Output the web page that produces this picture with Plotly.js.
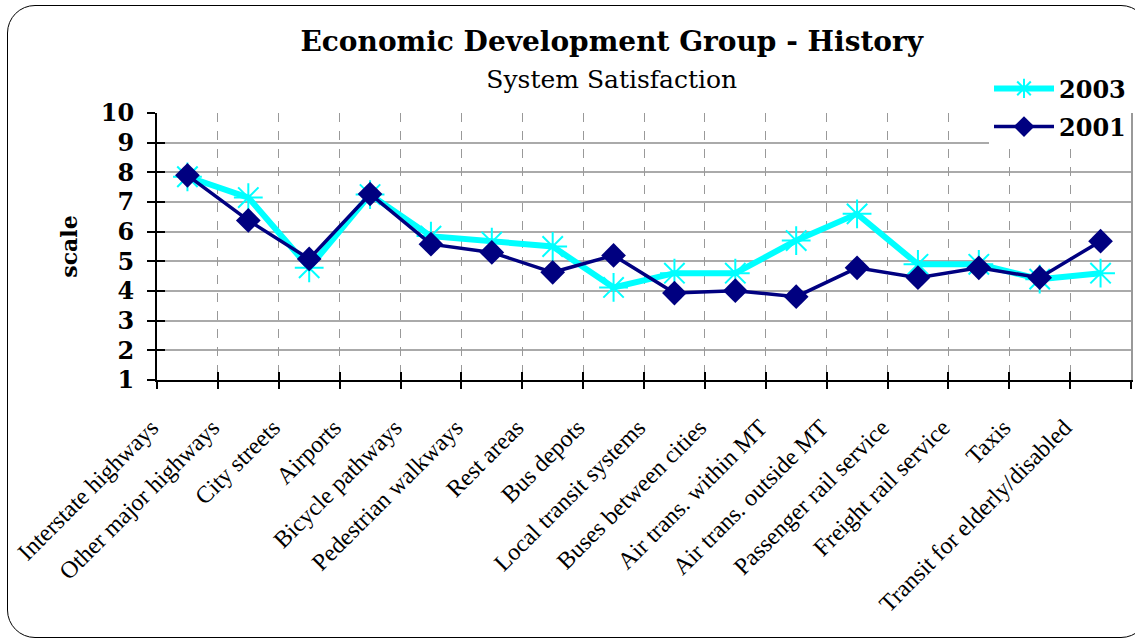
<!DOCTYPE html>
<html><head><meta charset="utf-8">
<script src="https://cdn.plot.ly/plotly-3.0.1.min.js"></script>
<style>
html,body{margin:0;padding:0;background:#fff;}
#frame{position:absolute;left:7px;top:5px;width:1140px;height:631px;border:1.5px solid #000;border-radius:28px;}
#chart{position:absolute;left:0;top:0;width:1135px;height:641px;}
</style></head>
<body><div id="frame"></div><div id="chart"></div>
<script>
const categories = ["Interstate highways","Other major highways","City streets","Airports","Bicycle pathways","Pedestrian walkways","Rest areas","Bus depots","Local transit systems","Buses between cities","Air trans. within MT","Air trans. outside MT","Passenger rail service","Freight rail service","Taxis","Transit for elderly/disabled"];
const values2003 = [7.85,7.15,4.78,7.25,5.85,5.65,5.5,4.12,4.6,4.6,5.7,6.6,4.9,4.9,4.4,4.6];
const values2001 = [7.9,6.38,5.08,7.27,5.58,5.3,4.63,5.2,3.93,4.01,3.81,4.78,4.45,4.78,4.45,5.68];
const yTicks = [1,2,3,4,5,6,7,8,9,10];
const idx = categories.map((c,i)=>i);

const serifB = "DejaVu Serif";
// helper traces (draw nothing) so the overlay axes for grid, cross ticks and frame are rendered
const helper = (xa, ya) => ({x: idx, y: values2001, xaxis: xa, yaxis: ya, mode: "none", type: "scatter",
  showlegend: false, hoverinfo: "skip"});
const traces = [
  helper("x2","y2"), helper("x3","y3"),
  {x: idx, y: values2003, name: "2003", type: "scatter", mode: "lines+markers",
   legendgroup: "a",
   line: {color: "#00FFFF", width: 6},
   marker: {symbol: "asterisk-open", size: 24, color: "#00FFFF", line: {color: "#00FFFF", width: 2}}},
  {x: idx, y: values2001, name: "2001", type: "scatter", mode: "lines+markers",
   legendgroup: "b",
   line: {color: "#000080", width: 3.5},
   marker: {symbol: "diamond", size: 19, color: "#000080"}}
];

const layout = {
  width: 1135, height: 641,
  margin: {l: 157, r: 4, t: 113, b: 261},
  paper_bgcolor: "rgba(0,0,0,0)", plot_bgcolor: "#fff",
  showlegend: true,
  title: {text: "<b>Economic Development Group - History</b><br><span style='font-size:25px;font-weight:normal'>System Satisfaction</span>",
    font: {family: serifB, size: 28, color: "#000"}, x: 0.539, xanchor: "center", y: 0.92, yanchor: "top"},
  xaxis: {
    type: "linear", range: [-0.5, 15.5],
    tickmode: "array", tickvals: idx, ticktext: categories,
    tickangle: -45, ticks: "", showgrid: false, zeroline: false,
    showline: true, linecolor: "#000", linewidth: 2,
    tickfont: {family: "Liberation Serif", size: 24, color: "#000"},
    ticklabelstandoff: 22, ticklabelshift: -36
  },
  xaxis2: {
    overlaying: "x", type: "linear", range: [-0.5, 15.5],
    tickmode: "linear", tick0: -0.5, dtick: 1,
    showgrid: true, gridcolor: "#999", griddash: "dash", gridwidth: 1,
    zeroline: false, showticklabels: false, ticks: "outside", ticklen: 8, tickwidth: 2, tickcolor: "#000",
    showline: false
  },
  yaxis2: {
    overlaying: "y", range: [1, 10], tickmode: "linear", tick0: 1, dtick: 1,
    ticks: "inside", ticklen: 8, tickwidth: 2, tickcolor: "#000",
    showgrid: false, zeroline: false, showticklabels: false, showline: false
  },
  xaxis3: {
    overlaying: "x", type: "linear", range: [-0.5, 15.5],
    tickmode: "linear", tick0: -0.5, dtick: 1,
    showgrid: false, zeroline: false, showticklabels: false, ticks: "inside", ticklen: 8, tickwidth: 2, tickcolor: "#000",
    showline: false
  },
  yaxis3: {
    overlaying: "y", side: "right", range: [1, 10],
    ticks: "", showgrid: false, zeroline: false, showticklabels: false,
    showline: true, linecolor: "#999", linewidth: 2
  },
  yaxis: {
    range: [1, 10], tickmode: "array", tickvals: yTicks, ticktext: yTicks.map(String),
    ticks: "outside", ticklen: 8, tickwidth: 2, tickcolor: "#000",
    showgrid: true, gridcolor: "#aaa", gridwidth: 1.5, zeroline: false,
    showline: true, linecolor: "#000", linewidth: 2,
    tickfont: {family: serifB, size: 24, color: "#000", weight: "bold"},
    ticklabelstandoff: 8,
    title: {text: "<b>scale</b>", font: {family: serifB, size: 22, color: "#000"}, standoff: 17}
  },
  legend: {x: 1.0, xanchor: "right", y: 1.175, yanchor: "top", bgcolor: "#fff",
    font: {family: serifB, size: 24, color: "#000", weight: "bold"},
    traceorder: "grouped", tracegroupgap: 4, itemwidth: 60}
};
Plotly.newPlot("chart", traces, layout, {displayModeBar: false});
</script></body></html>
